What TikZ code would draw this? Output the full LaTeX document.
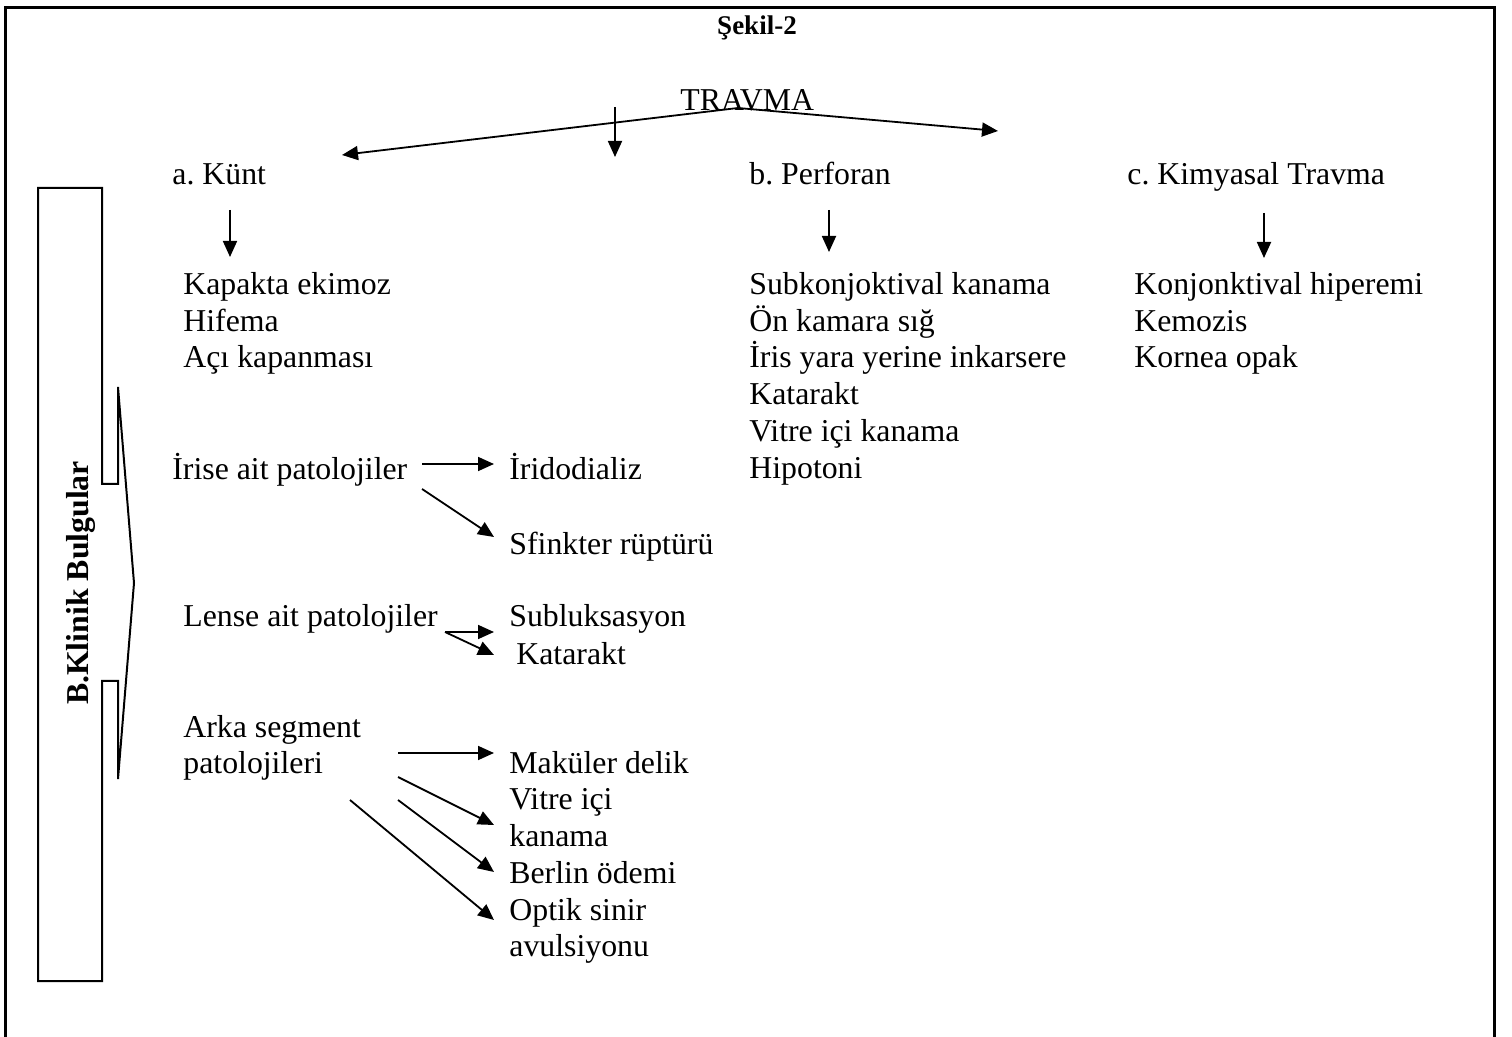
\documentclass[tikz,border=0pt]{standalone}
\usepackage{fontspec}
\setmainfont{Liberation Serif}
\usetikzlibrary{arrows.meta}
\frenchspacing
\begin{document}
\begin{tikzpicture}[x=0.5pt,y=-0.5pt,
 txt/.style={anchor=base west,inner sep=0pt,font=\fontsize{15.9}{19}\selectfont},
 arr/.style={-{Triangle[length=8pt,width=7pt]},line width=0.9pt},
 frame/.style={line width=1.5pt},
 boxline/.style={line width=1pt,line join=miter}]
\useasboundingbox (0,0) rectangle (1512,1037);
\draw[frame] (5,1037) -- (5,8) -- (1494,8) -- (1494,1037);
% title
\node[inner sep=0pt,font=\bfseries\fontsize{13.5}{16}\selectfont] (title) at (757,28) {Şekil-2};
\node[txt] (travma) at (680,111) {TRAVMA};
% categories
\node[txt] (a) at (172,185) {a. Künt};
\node[txt] (b) at (749,185) {b. Perforan};
\node[txt] (c) at (1127,185) {c. Kimyasal Travma};
% a list
\node[txt] (a1) at (183,295) {Kapakta ekimoz};
\node[txt] (a2) at (183,332) {Hifema};
\node[txt] (a3) at (183,368) {Açı kapanması};
% b list
\node[txt] (b1) at (749,295) {Subkonjoktival kanama};
\node[txt] (b2) at (749,332) {Ön kamara sığ};
\node[txt] (b3) at (749,368) {İris yara yerine inkarsere};
\node[txt] (b4) at (749,405) {Katarakt};
\node[txt] (b5) at (749,442) {Vitre içi kanama};
\node[txt] (b6) at (749,479) {Hipotoni};
% c list
\node[txt] (c1) at (1134,295) {Konjonktival hiperemi};
\node[txt] (c2) at (1134,332) {Kemozis};
\node[txt] (c3) at (1134,368) {Kornea opak};
% pathologies
\node[txt] (iris) at (172,480) {İrise ait patolojiler};
\node[txt] (irido) at (509,480) {İridodializ};
\node[txt] (sfink) at (509,555) {Sfinkter rüptürü};
\node[txt] (lens) at (183,627) {Lense ait patolojiler};
\node[txt] (sublu) at (509,627) {Subluksasyon};
\node[txt] (kata) at (516,665) {Katarakt};
\node[txt] (arka1) at (183,738) {Arka segment};
\node[txt] (arka2) at (183,774) {patolojileri};
\node[txt] (mak) at (509,774) {Maküler delik};
\node[txt] (vit1) at (509,810) {Vitre içi};
\node[txt] (vit2) at (509,847) {kanama};
\node[txt] (berl) at (509,884) {Berlin ödemi};
\node[txt] (opt1) at (509,921) {Optik sinir};
\node[txt] (opt2) at (509,957) {avulsiyonu};
% side bracket
\draw[boxline] (118,387) -- (118,484) -- (102,484) -- (102,188) -- (38,188) -- (38,981)
  -- (102,981) -- (102,681) -- (118,681) -- (118,779) -- (134,583) -- cycle;
\node[rotate=90,inner sep=0pt,font=\bfseries\fontsize{15.9}{19}\selectfont] (klinik) at (81,583) {B.Klinik Bulgular};
% TRAVMA arrows
\coordinate (apex) at (738,108);
\coordinate (tipL) at (342,155);
\coordinate (tipR) at (998,131);
\coordinate (dA) at (615,107);
\coordinate (dB) at (615,157);
\draw[arr] (apex) -- (tipL);
\draw[arr] (apex) -- (tipR);
\draw[arr] (dA) -- (dB);
% down arrows
\coordinate (a0) at (230,210); \coordinate (a9) at (230,257);
\coordinate (b0) at (829,210); \coordinate (b9) at (829,252);
\coordinate (c0) at (1264,213); \coordinate (c9) at (1264,258);
\draw[arr] (a0) -- (a9);
\draw[arr] (b0) -- (b9);
\draw[arr] (c0) -- (c9);
% iris arrows
\coordinate (i0) at (422,464); \coordinate (i1) at (494,464);
\coordinate (i2) at (422,489); \coordinate (i3) at (494,537);
\draw[arr] (i0) -- (i1);
\draw[arr] (i2) -- (i3);
% lens arrows
\coordinate (l0) at (445,632); \coordinate (l1) at (494,632); \coordinate (l2) at (494,655);
\draw[arr] (l0) -- (l1);
\draw[arr] (l0) -- (l2);
% arka arrows
\coordinate (k0) at (398,753); \coordinate (k1) at (494,753);
\coordinate (k2) at (398,777); \coordinate (k3) at (494,825);
\coordinate (k4) at (398,800); \coordinate (k5) at (494,872);
\coordinate (k6) at (350,800); \coordinate (k7) at (494,920);
\draw[arr] (k0) -- (k1);
\draw[arr] (k2) -- (k3);
\draw[arr] (k4) -- (k5);
\draw[arr] (k6) -- (k7);
\end{tikzpicture}
\end{document}
